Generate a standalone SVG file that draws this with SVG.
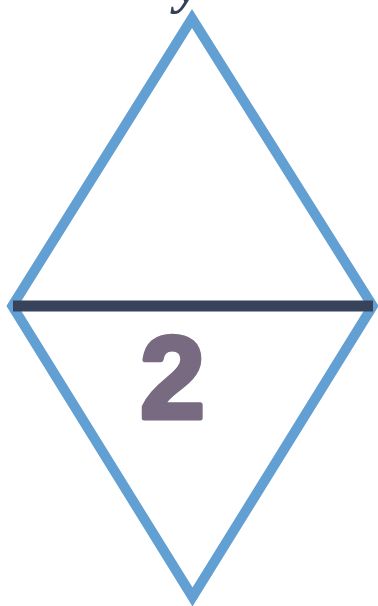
<svg xmlns="http://www.w3.org/2000/svg" width="378" height="606" viewBox="0 0 378 606">
<style>
.shape{fill:none;stroke:#629fd3;stroke-width:10;stroke-linejoin:miter;stroke-miterlimit:10}
.bar{stroke:#36435a;stroke-width:11}
.num{font-family:"Liberation Sans",Arial,sans-serif;font-weight:bold;font-size:116px;fill:#786a80;stroke:#786a80;stroke-width:5;stroke-linejoin:round;text-anchor:middle}
.top{font-family:"Liberation Serif",serif;font-style:italic;font-weight:bold;font-size:56px;fill:#34405a}
</style>
<text class="top" x="176" y="2">y</text>
<g id="diamond">
<polygon class="shape" points="192,18.5 372.7,306 192.5,597 12.3,306"/>
</g>
<g id="connectors">
<line class="bar" x1="13" y1="306" x2="373" y2="306"/>
</g>
<g id="label">
<text class="num" x="172.5" y="418">2</text>
</g>
</svg>
